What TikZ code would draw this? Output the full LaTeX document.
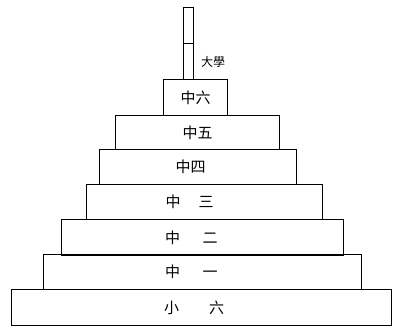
\documentclass[tikz,border=0pt]{standalone}
\usepackage{fontspec}
\newfontfamily\cjk{Noto Sans CJK SC}
\begin{document}
\begin{tikzpicture}[x=1pt,y=-1pt,
  tier/.style={draw, line width=1.2pt, rectangle, inner sep=0pt, anchor=north west, font=\cjk\fontsize{15}{15}\selectfont},
  polebox/.style={draw, line width=1.2pt, rectangle, inner sep=0pt, anchor=north west, minimum width=10pt}]
\useasboundingbox (0,0) rectangle (396,327);
\node[polebox, minimum height=36pt] (p1) at (183,7) {};
\node[polebox, minimum height=36pt] (p2) at (183,43) {};
\node[tier, minimum width=64pt, minimum height=36pt] (s6) at (163,79) {中六};
\node[tier, minimum width=164pt, minimum height=34pt] (m5) at (115,115) {中五};
\node[tier, minimum width=197pt, minimum height=35pt] (m4) at (99,149) {\hspace{-1em}中四};
\node[tier, minimum width=236pt, minimum height=35pt] (m3) at (86,184) {\hspace{-2em}中\hspace{1.2em}三};
\node[tier, minimum width=282pt, minimum height=36pt] (m2) at (61,219) {\hspace{-1.5em}中\hspace{1.5em}二};
\node[tier, minimum width=318pt, minimum height=35pt] (m1) at (43,254) {\hspace{-1.5em}中\hspace{1.5em}一};
\node[tier, minimum width=380pt, minimum height=36pt] (p6) at (11,289) {\hspace{-1em}小\hspace{2em}六};
\node[font=\cjk\fontsize{12}{12}\selectfont, inner sep=1pt, anchor=west] (uni) at (200,62) {大學};
\end{tikzpicture}
\end{document}
